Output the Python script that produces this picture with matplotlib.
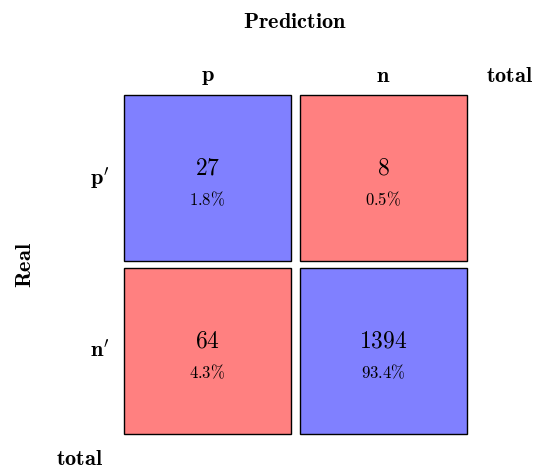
import matplotlib
matplotlib.use("Agg")
import matplotlib.pyplot as plt
from matplotlib.patches import Rectangle

plt.rcParams['mathtext.fontset'] = 'cm'
plt.rcParams['font.family'] = 'serif'
plt.rcParams['font.serif'] = ['DejaVu Serif']

counts = [[27, 8], [64, 1394]]
percents = ["1.8%", "0.5%", "4.3%", "93.4%"]
col_labels = ["p", "n"]
row_labels = ["p'", "n'"]
colors = [["#8080ff", "#ff8080"], ["#ff8080", "#8080ff"]]

fig = plt.figure(figsize=(5.5, 4.74), dpi=100)
ax = fig.add_axes([0, 0, 1, 1])
ax.set_xlim(0, 550)
ax.set_ylim(474, 0)
ax.axis('off')

x0s = [124, 300]
y0s = [95, 268]
w, h = 167, 166
for i in range(2):
    for j in range(2):
        ax.add_patch(Rectangle((x0s[j], y0s[i]), w, h, facecolor=colors[i][j],
                               edgecolor='black', lw=1))
        cx = x0s[j] + w / 2
        cy = y0s[i] + h / 2
        ax.text(cx, cy - 10, r"$%d$" % counts[i][j], ha='center', va='center', fontsize=17)
        ax.text(cx, cy + 22, r"$%s$" % percents[i * 2 + j].replace("%", r"\%"),
                ha='center', va='center', fontsize=12)

ax.text(295, 22, r"$\mathbf{Prediction}$", ha='center', va='center', fontsize=16)
for j, lab in enumerate(col_labels):
    ax.text(x0s[j] + w / 2, 76, r"$\mathbf{%s}$" % lab, ha='center', va='center', fontsize=16)
ax.text(510, 76, r"$\mathbf{total}$", ha='center', va='center', fontsize=16)
for i, lab in enumerate(row_labels):
    ax.text(100, y0s[i] + h / 2, r"$\mathbf{%s}$" % lab, ha='center', va='center', fontsize=16)
ax.text(25, 265, r"$\mathbf{Real}$", ha='center', va='center', fontsize=16, rotation=90)
ax.text(80, 459, r"$\mathbf{total}$", ha='center', va='center', fontsize=16)

fig.savefig("out.png", dpi=100)
